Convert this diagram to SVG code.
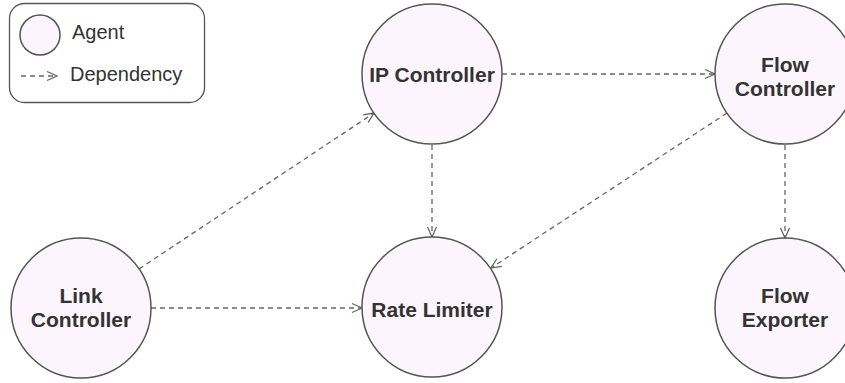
<svg xmlns="http://www.w3.org/2000/svg" width="845" height="383" viewBox="0 0 845 383">
  <style>
    .agent { fill: #fdf5fd; stroke: #555; stroke-width: 1.5; }
    .label { font-family: "Liberation Sans", Arial, Helvetica, sans-serif; font-weight: bold; font-size: 21px; fill: #333; text-anchor: middle; }
    .legend-text { font-family: "Liberation Sans", Arial, Helvetica, sans-serif; font-size: 20px; fill: #333; }
    .dep { fill: none; stroke: #666; stroke-width: 1.3; stroke-dasharray: 5 4; marker-end: url(#chevron); }
  </style>
  <defs>
    <marker id="chevron" viewBox="0 0 12 12" refX="11" refY="6" markerWidth="12" markerHeight="12" markerUnits="userSpaceOnUse" orient="auto">
      <path d="M1,1.5 L11,6 L1,10.5" fill="none" stroke="#666" stroke-width="1.3"/>
    </marker>
  </defs>
  <rect width="845" height="383" fill="#ffffff"/>

  <!-- Legend -->
  <g id="legend">
    <rect x="9.5" y="3.5" width="195" height="99" rx="15" ry="15" fill="#fff" stroke="#555" stroke-width="1.3"/>
    <circle class="agent" cx="40" cy="35" r="20"/>
    <text class="legend-text" x="72" y="39">Agent</text>
    <line class="dep" x1="21" y1="76" x2="57" y2="76"/>
    <text class="legend-text" x="70" y="81">Dependency</text>
  </g>

  <!-- Dependencies -->
  <g id="connectors">
    <line class="dep" x1="502" y1="74" x2="715" y2="74"/>
    <line class="dep" x1="139" y1="269" x2="374" y2="113"/>
    <line class="dep" x1="727" y1="113" x2="491" y2="268"/>
    <line class="dep" x1="151" y1="308" x2="362" y2="308"/>
    <line class="dep" x1="432" y1="145" x2="432" y2="237"/>
    <line class="dep" x1="785" y1="145" x2="785" y2="238"/>
  </g>

  <!-- Agents -->
  <g id="ip-controller">
    <circle class="agent" cx="432" cy="74" r="70"/>
    <text class="label" x="432" y="82">IP Controller</text>
  </g>
  <g id="flow-controller">
    <circle class="agent" cx="785" cy="74" r="70"/>
    <text class="label" x="785" y="72">Flow</text>
    <text class="label" x="785" y="96">Controller</text>
  </g>
  <g id="link-controller">
    <circle class="agent" cx="81" cy="308" r="70"/>
    <text class="label" x="81" y="303">Link</text>
    <text class="label" x="81" y="327">Controller</text>
  </g>
  <g id="rate-limiter">
    <circle class="agent" cx="432" cy="307" r="70"/>
    <text class="label" x="432" y="317">Rate Limiter</text>
  </g>
  <g id="flow-exporter">
    <circle class="agent" cx="785" cy="308" r="70"/>
    <text class="label" x="785" y="303">Flow</text>
    <text class="label" x="785" y="327">Exporter</text>
  </g>
</svg>
